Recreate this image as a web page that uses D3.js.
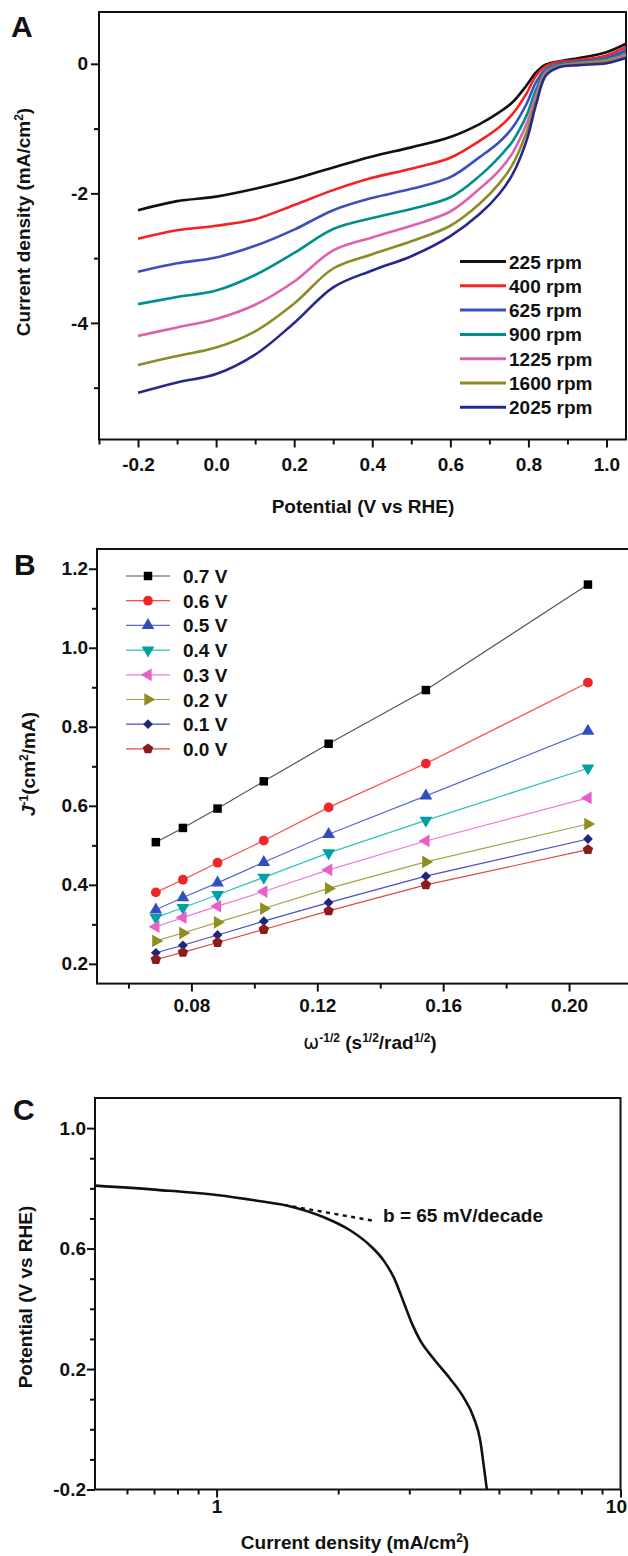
<!DOCTYPE html>
<html>
<head>
<meta charset="utf-8">
<script src="https://cdn.jsdelivr.net/npm/d3@7"></script>
<style>
  body { margin: 0; background: #fff; }
  svg { display: block; font-family: 'Liberation Sans', Arial, Helvetica, sans-serif; font-weight: bold; }
</style>
</head>
<body>
<div id="figure"></div>
<script>
// ---- panel A: polarisation curves at several rotation rates ----
const potentialA = [-0.2, -0.1, 0.0, 0.1, 0.2, 0.3, 0.4, 0.5, 0.6, 0.675, 0.725, 0.76, 0.795, 0.82, 0.845, 0.88, 0.93, 1.0, 1.05];
const j225 = [-2.26, -2.12, -2.05, -1.93, -1.78, -1.60, -1.43, -1.29, -1.13, -0.93, -0.75, -0.59, -0.335, -0.13, -0.01, 0.04, 0.09, 0.18, 0.31];
const j400 = [-2.70, -2.57, -2.50, -2.40, -2.18, -1.95, -1.76, -1.62, -1.45, -1.19, -0.98, -0.77, -0.46, -0.18, -0.03, 0.03, 0.06, 0.13, 0.26];
const j625 = [-3.21, -3.08, -2.99, -2.81, -2.56, -2.26, -2.07, -1.93, -1.75, -1.44, -1.21, -0.98, -0.62, -0.28, -0.08, 0.00, 0.035, 0.09, 0.21];
const j900 = [-3.71, -3.60, -3.50, -3.26, -2.92, -2.55, -2.38, -2.24, -2.06, -1.73, -1.44, -1.19, -0.80, -0.39, -0.10, -0.01, 0.02, 0.07, 0.16];
const j1225 = [-4.20, -4.07, -3.94, -3.72, -3.36, -2.88, -2.68, -2.50, -2.28, -1.93, -1.65, -1.37, -0.93, -0.49, -0.13, -0.03, 0.01, 0.05, 0.14];
const j1600 = [-4.65, -4.51, -4.38, -4.13, -3.70, -3.16, -2.94, -2.74, -2.50, -2.16, -1.85, -1.55, -1.06, -0.57, -0.15, -0.04, 0.00, 0.035, 0.11];
const j2025 = [-5.08, -4.92, -4.79, -4.49, -4.00, -3.45, -3.19, -2.97, -2.66, -2.32, -2.01, -1.70, -1.19, -0.62, -0.18, -0.05, -0.02, 0.01, 0.09];
const rpmLabels = ['225 rpm', '400 rpm', '625 rpm', '900 rpm', '1225 rpm', '1600 rpm', '2025 rpm'];
const xTicksA = [-0.2, 0.0, 0.2, 0.4, 0.6, 0.8, 1.0];
const xTickLabelsA = ['-0.2', '0.0', '0.2', '0.4', '0.6', '0.8', '1.0'];
const xMinorA = [-0.3, -0.1, 0.1, 0.3, 0.5, 0.7, 0.9];
const yTicksA = [0, -2, -4];
const yTickLabelsA = ['0', '-2', '-4'];
const yMinorA = [-1, -3, -5];

// ---- panel B: Koutecky-Levich plots ----
const omegaInv = [0.0687, 0.0773, 0.0883, 0.1030, 0.1236, 0.1545, 0.2060];
const inv07 = [0.508, 0.544, 0.593, 0.662, 0.757, 0.893, 1.160];
const inv06 = [0.381, 0.413, 0.456, 0.512, 0.596, 0.707, 0.912];
const inv05 = [0.337, 0.368, 0.405, 0.457, 0.528, 0.625, 0.789];
const inv04 = [0.317, 0.342, 0.375, 0.419, 0.481, 0.563, 0.695];
const inv03 = [0.294, 0.317, 0.346, 0.383, 0.438, 0.511, 0.620];
const inv02 = [0.258, 0.278, 0.305, 0.340, 0.391, 0.458, 0.554];
const inv01 = [0.228, 0.247, 0.273, 0.308, 0.355, 0.422, 0.516];
const inv00 = [0.211, 0.229, 0.254, 0.287, 0.334, 0.400, 0.489];
const voltLabels = ['0.7 V', '0.6 V', '0.5 V', '0.4 V', '0.3 V', '0.2 V', '0.1 V', '0.0 V'];
const xTicksB = [0.08, 0.12, 0.16, 0.20];
const xTickLabelsB = ['0.08', '0.12', '0.16', '0.20'];
const xMinorB = [0.06, 0.10, 0.14, 0.18];
const yTicksB = [0.2, 0.4, 0.6, 0.8, 1.0, 1.2];
const yTickLabelsB = ['0.2', '0.4', '0.6', '0.8', '1.0', '1.2'];
const yMinorB = [0.3, 0.5, 0.7, 0.9, 1.1];

// ---- panel C: Tafel plot ----
const tafelJ = [0.50, 0.713, 1.0, 1.26, 1.524, 1.843, 2.145, 2.40, 2.593, 2.744, 2.905, 3.048, 3.195, 3.446, 3.79, 4.088, 4.327, 4.496, 4.58, 4.67];
const tafelE = [0.809, 0.795, 0.778, 0.759, 0.740, 0.704, 0.660, 0.610, 0.560, 0.505, 0.422, 0.350, 0.294, 0.234, 0.167, 0.106, 0.040, -0.038, -0.115, -0.202];
const tafelFitJ = [1.47, 2.43];
const tafelFitE = [0.745, 0.693];
const tafelNote = 'b = 65 mV/decade';
const xTicksC = [1, 10];
const xTickLabelsC = ['1', '10'];
const xMinorC = [0.6, 0.7, 0.8, 0.9, 2, 3, 4, 5, 6, 7, 8, 9];
const yTicksC = [-0.2, 0.2, 0.6, 1.0];
const yTickLabelsC = ['-0.2', '0.2', '0.6', '1.0'];
const yMinorC = [-0.1, 0.0, 0.1, 0.3, 0.4, 0.5, 0.7, 0.8, 0.9];

const INK = '#111';

const svg = d3.select('#figure')
  .append('svg')
  .attr('width', 628)
  .attr('height', 1556);

const addAxis = (axis, translate, fontSize = 19) => {
  const g = svg.append('g')
    .attr('transform', translate)
    .call(axis)
    .attr('font-size', null)
    .attr('font-family', null);
  g.select('.domain').remove();
  g.selectAll('line')
    .attr('stroke', INK)
    .attr('stroke-width', 2);
  g.selectAll('text')
    .attr('fill', INK)
    .style('font-size', `${fontSize}px`);
  return g;
};

const drawFrame = (x, y) => {
  const [x0, x1] = x.range();
  const [y1, y0] = y.range();
  svg.append('rect')
    .attr('x', x0)
    .attr('y', y0)
    .attr('width', x1 - x0)
    .attr('height', y1 - y0)
    .attr('fill', 'none')
    .attr('stroke', INK)
    .attr('stroke-width', 2);
};

const drawAxes = (x, y, opts) => {
  const bottom = y.range()[0];
  const left = x.range()[0];
  addAxis(d3.axisBottom(x).tickValues(opts.xMinor).tickSize(5).tickFormat(''), `translate(0,${bottom})`);
  const xAxis = addAxis(d3.axisBottom(x).tickValues(opts.xTicks).tickSize(8).tickPadding(opts.xPad)
    .tickFormat((d, i) => opts.xLabels[i]), `translate(0,${bottom})`);
  addAxis(d3.axisLeft(y).tickValues(opts.yMinor).tickSize(5).tickFormat(''), `translate(${left},0)`);
  addAxis(d3.axisLeft(y).tickValues(opts.yTicks).tickSize(8).tickPadding(opts.yPad)
    .tickFormat((d, i) => opts.yLabels[i]), `translate(${left},0)`);
  drawFrame(x, y);
  return xAxis;
};

// text with superscript pieces: parts = [[text, isSup, style]]
const richText = (parts, x, y, rotate) => {
  const t = svg.append('text')
    .attr('text-anchor', 'middle')
    .attr('fill', INK)
    .style('font-size', '19px')
    .attr('transform', rotate ? `translate(${x},${y}) rotate(-90)` : `translate(${x},${y})`);
  let raised = false;
  parts.forEach(([txt, sup, style]) => {
    const span = t.append('tspan').text(txt);
    if (sup && !raised) span.attr('dy', -7);
    if (!sup && raised) span.attr('dy', 7);
    if (sup) span.style('font-size', '12px');
    if (style) span.attr('style', (sup ? 'font-size:12px;' : '') + style);
    raised = sup;
  });
  return t;
};

const panelLabel = (txt, x, y) => svg.append('text')
  .attr('x', x)
  .attr('y', y)
  .attr('fill', INK)
  .style('font-size', '30px')
  .text(txt);

// ================= panel A =================
const xA = d3.scaleLinear().domain([-0.3, 1.05]).range([99, 626]);
const yA = d3.scaleLinear().domain([-5.8, 0.8]).range([439.5, 12]);

const seriesA = [
  { label: rpmLabels[0], values: j225, color: '#111111' },
  { label: rpmLabels[1], values: j400, color: '#f42222' },
  { label: rpmLabels[2], values: j625, color: '#3b4fc0' },
  { label: rpmLabels[3], values: j900, color: '#00908c' },
  { label: rpmLabels[4], values: j1225, color: '#e060b0' },
  { label: rpmLabels[5], values: j1600, color: '#8c8c26' },
  { label: rpmLabels[6], values: j2025, color: '#28288c' },
];

drawAxes(xA, yA, {
  xTicks: xTicksA, xLabels: xTickLabelsA, xMinor: xMinorA, xPad: 10,
  yTicks: yTicksA, yLabels: yTickLabelsA, yMinor: yMinorA, yPad: 3,
});

const lineA = d3.line()
  .curve(d3.curveCatmullRom.alpha(0.5))
  .x((d) => xA(d[0]))
  .y((d) => yA(d[1]));

seriesA.forEach((s) => {
  svg.append('path')
    .datum(d3.zip(potentialA, s.values))
    .attr('fill', 'none')
    .attr('stroke', s.color)
    .attr('stroke-width', 2.6)
    .attr('stroke-linejoin', 'round')
    .attr('d', lineA);
});

const legendA = svg.append('g')
  .attr('transform', 'translate(460,261.5)')
  .selectAll('g')
  .data(seriesA)
  .enter()
  .append('g')
  .attr('transform', (_, i) => `translate(0,${i * 24.3})`);

legendA.append('line')
  .attr('x1', 0)
  .attr('x2', 46)
  .attr('stroke', (d) => d.color)
  .attr('stroke-width', 3);

legendA.append('text')
  .attr('x', 49)
  .attr('y', 7)
  .attr('fill', INK)
  .style('font-size', '19px')
  .text((d) => d.label);

richText([['Potential (V vs RHE)']], 363, 513, false);
richText([['Current density (mA/cm'], ['2', true], [')']], 30, 222, true);
panelLabel('A', 11, 37);

// ================= panel B =================
const xB = d3.scaleLinear().domain([0.05, 0.22]).range([97, 632]);
const yB = d3.scaleLinear().domain([0.15, 1.25]).range([983.6, 549]);

const symbolPentagon = {
  draw(context, size) {
    const r = Math.sqrt(size / 2.378);
    for (let i = 0; i < 5; i += 1) {
      const a = -Math.PI / 2 + (i * 2 * Math.PI) / 5;
      if (i === 0) context.moveTo(r * Math.cos(a), r * Math.sin(a));
      else context.lineTo(r * Math.cos(a), r * Math.sin(a));
    }
    context.closePath();
  },
};

const seriesB = [
  { label: voltLabels[0], values: inv07, symbol: d3.symbolSquare, size: 72, rot: 0, fill: '#000000', line: '#555555' },
  { label: voltLabels[1], values: inv06, symbol: d3.symbolCircle, size: 75, rot: 0, fill: '#f02626', line: '#ff4a4a' },
  { label: voltLabels[2], values: inv05, symbol: d3.symbolTriangle, size: 70, rot: 0, fill: '#2f4fbf', line: '#5a6ad0' },
  { label: voltLabels[3], values: inv04, symbol: d3.symbolTriangle, size: 70, rot: 180, fill: '#00a0a4', line: '#30c0c0' },
  { label: voltLabels[4], values: inv03, symbol: d3.symbolTriangle, size: 70, rot: -90, fill: '#e462c8', line: '#f07ad4' },
  { label: voltLabels[5], values: inv02, symbol: d3.symbolTriangle, size: 70, rot: 90, fill: '#8e8e22', line: '#a4a448' },
  { label: voltLabels[6], values: inv01, symbol: d3.symbolSquare, size: 48, rot: 45, fill: '#1f267c', line: '#4a4ec4' },
  { label: voltLabels[7], values: inv00, symbol: symbolPentagon, size: 72, rot: 0, fill: '#8c1c1c', line: '#e04646' },
];

drawAxes(xB, yB, {
  xTicks: xTicksB, xLabels: xTickLabelsB, xMinor: xMinorB, xPad: 7,
  yTicks: yTicksB, yLabels: yTickLabelsB, yMinor: yMinorB, yPad: 1,
});

const lineB = d3.line()
  .x((d) => xB(d[0]))
  .y((d) => yB(d[1]));

seriesB.forEach((s) => {
  const pts = d3.zip(omegaInv, s.values);
  svg.append('path')
    .datum(pts)
    .attr('fill', 'none')
    .attr('stroke', s.line)
    .attr('stroke-width', 1.2)
    .attr('d', lineB);
  svg.append('g')
    .selectAll('path')
    .data(pts)
    .enter()
    .append('path')
    .attr('d', d3.symbol().type(s.symbol).size(s.size))
    .attr('transform', (d) => `translate(${xB(d[0])},${yB(d[1])}) rotate(${s.rot})`)
    .attr('fill', s.fill);
});

const legendB = svg.append('g')
  .attr('transform', 'translate(126,576)')
  .selectAll('g')
  .data(seriesB)
  .enter()
  .append('g')
  .attr('transform', (_, i) => `translate(0,${i * 24.7})`);

legendB.append('line')
  .attr('x1', 0)
  .attr('x2', 44)
  .attr('stroke', (d) => d.line)
  .attr('stroke-width', 1.2);

legendB.append('path')
  .attr('d', (d) => d3.symbol().type(d.symbol).size(d.size)())
  .attr('transform', (d) => `translate(22,0) rotate(${d.rot})`)
  .attr('fill', (d) => d.fill);

legendB.append('text')
  .attr('x', 57)
  .attr('y', 7)
  .attr('fill', INK)
  .style('font-size', '19px')
  .text((d) => d.label);

richText([
  ['\u03c9', false, 'font-weight:normal;font-family:DejaVu Sans'],
  ['-1/2', true], [' (s'], ['1/2', true], ['/rad'], ['1/2', true], [')'],
], 370, 1049, false);
richText([['J', false, 'font-style:italic'], ['-1', true], ['(cm'], ['2', true], ['/mA)']], 35, 764, true);
panelLabel('B', 14, 575);

// ================= panel C =================
const xC = d3.scaleLog().domain([0.5, 10]).range([95, 620.5]);
const yC = d3.scaleLinear().domain([-0.2, 1.1]).range([1489.5, 1098]);

const xAxisC = drawAxes(xC, yC, {
  xTicks: xTicksC, xLabels: xTickLabelsC, xMinor: xMinorC, xPad: 2,
  yTicks: yTicksC, yLabels: yTickLabelsC, yMinor: yMinorC, yPad: 1,
});

// keep the "10" inside the page edge
xAxisC.selectAll('text')
  .filter((d) => d === 10)
  .attr('text-anchor', 'end')
  .attr('dx', 6);

const lineC = d3.line()
  .curve(d3.curveMonotoneX)
  .x((d) => xC(d[0]))
  .y((d) => yC(d[1]));

svg.append('path')
  .datum(d3.zip(tafelFitJ, tafelFitE))
  .attr('fill', 'none')
  .attr('stroke', INK)
  .attr('stroke-width', 2.4)
  .attr('stroke-dasharray', '4,4.5')
  .attr('d', d3.line().x((d) => xC(d[0])).y((d) => yC(d[1])));

svg.append('path')
  .datum(d3.zip(tafelJ, tafelE))
  .attr('fill', 'none')
  .attr('stroke', INK)
  .attr('stroke-width', 2.6)
  .attr('d', lineC);

svg.append('text')
  .attr('x', 383)
  .attr('y', 1222)
  .attr('fill', INK)
  .style('font-size', '19px')
  .text(tafelNote);

richText([['Current density (mA/cm'], ['2', true], [')']], 355, 1549, false);
richText([['Potential (V vs RHE)']], 32, 1297, true);
panelLabel('C', 13, 1120);
</script>
</body>
</html>
